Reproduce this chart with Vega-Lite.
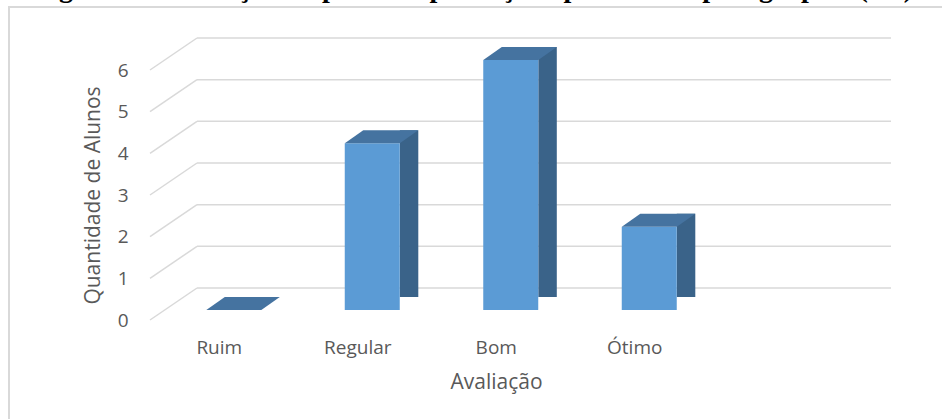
{
  "$schema": "https://vega.github.io/schema/vega-lite/v6.json",
  "width": 933,
  "height": 412,
  "autosize": {"type": "none"},
  "padding": {"left": 9, "top": 7, "right": 0, "bottom": 0},
  "background": "white",
  "config": {
    "view": {"stroke": "#d9d9d9", "strokeWidth": 2, "strokeDash": [933, 1345, 412]},
    "axis": {"labelFont": "Open Sans", "titleFont": "Open Sans", "labelColor": "#595959", "titleColor": "#595959", "titleFontWeight": "normal"}
  },
  "title": {
    "text": "Figura 8 – Avaliação da parte da produção apresentada pelo grupo 1 (G1).",
    "orient": "top",
    "anchor": "end",
    "frame": "bounds",
    "baseline": "alphabetic",
    "offset": 0,
    "dy": 18,
    "dx": -22,
    "font": "Liberation Serif",
    "fontSize": 28,
    "fontWeight": "bold",
    "color": "#000000"
  },
  "datasets": {
    "avaliacao": [
      {"avaliacao": "Ruim", "alunos": 0},
      {"avaliacao": "Regular", "alunos": 4},
      {"avaliacao": "Bom", "alunos": 6},
      {"avaliacao": "Ótimo", "alunos": 2}
    ],
    "grade": [{"v": 0}, {"v": 1}, {"v": 2}, {"v": 3}, {"v": 4}, {"v": 5}, {"v": 6}]
  },
  "encoding": {
    "x": {
      "field": "avaliacao",
      "type": "nominal",
      "sort": ["Ruim", "Regular", "Bom", "Ótimo"],
      "scale": {"domain": ["Ruim", "Regular", "Bom", "Ótimo"], "range": [141, 695], "paddingInner": 0, "paddingOuter": 0},
      "axis": {
        "title": "Avaliação",
        "labelAngle": 0,
        "labelFontSize": 19,
        "labelBaseline": "alphabetic",
        "labelPadding": 33,
        "ticks": false,
        "tickSize": 0,
        "domain": false,
        "grid": false,
        "offset": -99,
        "titleFontSize": 21,
        "titleX": 487,
        "titleY": 68,
        "titleBaseline": "alphabetic",
        "titleAlign": "center"
      }
    },
    "y": {
      "field": "alunos",
      "type": "quantitative",
      "scale": {"domain": [0, 6], "range": [313, 63], "nice": false, "zero": true},
      "axis": {
        "title": "Quantidade de Alunos",
        "values": [0, 1, 2, 3, 4, 5, 6],
        "labelFontSize": 19,
        "labelPadding": 22,
        "labelAlign": "right",
        "ticks": false,
        "tickSize": 0,
        "domain": false,
        "grid": false,
        "offset": -141,
        "titleFontSize": 21,
        "titleAngle": -90,
        "titleX": -57,
        "titleY": 188,
        "titleAlign": "center",
        "titleBaseline": "middle"
      }
    }
  },
  "layer": [
    {
      "data": {"name": "grade"},
      "mark": {"type": "rule", "color": "#d9d9d9", "strokeWidth": 1.5, "xOffset": -69.25, "x2Offset": -22.25, "y2Offset": -32},
      "encoding": {
        "x": {"datum": "Ruim"},
        "x2": {"datum": "Ruim"},
        "y": {"field": "v", "type": "quantitative"},
        "y2": {"field": "v"}
      }
    },
    {
      "data": {"name": "grade"},
      "mark": {"type": "rule", "color": "#d9d9d9", "strokeWidth": 1.5, "xOffset": -22.25, "yOffset": -32, "x2Offset": 256.25, "y2Offset": -32},
      "encoding": {
        "x": {"datum": "Ruim"},
        "x2": {"datum": "Ótimo"},
        "y": {"field": "v", "type": "quantitative"},
        "y2": {"field": "v"}
      }
    },
    {
      "data": {"name": "avaliacao"},
      "mark": {"type": "bar", "color": "#3a6389", "width": 18.5, "xOffset": 51.3, "yOffset": -23, "y2Offset": -10},
      "encoding": {}
    },
    {
      "data": {"name": "avaliacao"},
      "mark": {"type": "bar", "color": "#5b9bd5", "width": 55, "xOffset": 14.5, "yOffset": -10, "y2Offset": -10},
      "encoding": {}
    },
    {
      "data": {"name": "avaliacao"},
      "mark": {"type": "point", "filled": true, "opacity": 1, "color": "white", "strokeWidth": 0, "size": 342.25, "shape": "M-1,0.703L1.3,0.703L1.3,-0.703L1.1,-0.703Z", "xOffset": 51.3, "yOffset": -16.5},
      "encoding": {"y": {"datum": 0}}
    },
    {
      "data": {"name": "avaliacao"},
      "mark": {"type": "point", "filled": true, "opacity": 1, "color": "#4573a0", "strokeWidth": 0, "size": 5402.25, "shape": "M-1,0.177L0.497,0.177L1,-0.177L-0.497,-0.177Z", "xOffset": 23.8, "yOffset": -16.5},
      "encoding": {}
    }
  ]
}
